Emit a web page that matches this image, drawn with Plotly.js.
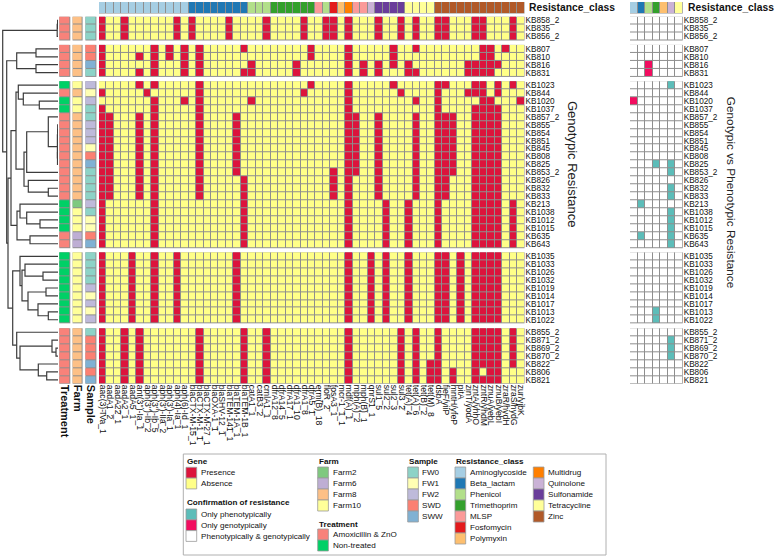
<!DOCTYPE html>
<html><head><meta charset="utf-8">
<script src="https://cdn.plot.ly/plotly-3.0.1.min.js"></script>
<style>html,body{margin:0;padding:0;background:#fff}</style>
</head><body><div id="chart" style="width:776px;height:558px"></div>
<script>
// ---------------- DATA ----------------
const genes = ["aac(3)-IVa_1","aadA1_2","aadA22_1","aadA2_1","aadA5_1","ant(3'')-Ia_1","aph(3'')-Ib_2","aph(3'')-Ib_5","aph(3')-IIa_2","aph(3')-Ia_1","aph(4)-Ia_1","aph(6)-Id_1",
"blaCTX-M-15_1","blaCTX-M-1_1","blaCTX-M-27_1","blaOXA-1_1","blaSHV-12_1","blaTEM-141_1","blaTEM-1A_1","blaTEM-1B_1",
"catA1_1","catB3_2","cmlA1_1","dfrA12_8","dfrA14_5","dfrA17_1","dfrA1_10","dfrA1_8","dfrA5_1","erm(B)_18","floR_2","fosA3_1","mcr-1_1_1","mdf(A)_1","mph(A)_2","mph(B)_1","qnrS1_1",
"sul1_5","sul2_2","sul2_3","sul3_2","tet(A)_4","tet(A)_6","tet(B)_2","tet(M)_8",
"dsbA","fieF/yiiP","mntH/yfeP","pitA","zinT/yodA","zntA/yhhO","zntR/yhdM","znuA/yebL","znuB/yebI","zraR/hydH","zraS/hydG","zur/yjbK"];
const geneClass = ["Aminoglycoside","Aminoglycoside","Aminoglycoside","Aminoglycoside","Aminoglycoside","Aminoglycoside","Aminoglycoside","Aminoglycoside","Aminoglycoside","Aminoglycoside","Aminoglycoside","Aminoglycoside",
"Beta_lactam","Beta_lactam","Beta_lactam","Beta_lactam","Beta_lactam","Beta_lactam","Beta_lactam","Beta_lactam",
"Phenicol","Phenicol","Phenicol","Trimethoprim","Trimethoprim","Trimethoprim","Trimethoprim","Trimethoprim","Trimethoprim","MLSP","Phenicol","Fosfomycin","Polymyxin","Multidrug","MLSP","MLSP","Quinolone",
"Sulfonamide","Sulfonamide","Sulfonamide","Sulfonamide","Tetracycline","Tetracycline","Tetracycline","Tetracycline",
"Zinc","Zinc","Zinc","Zinc","Zinc","Zinc","Zinc","Zinc","Zinc","Zinc","Zinc","Zinc"];
const classNames = ["Aminoglycoside","Beta_lactam","Phenicol","Trimethoprim","MLSP","Fosfomycin","Polymyxin","Multidrug","Quinolone","Sulfonamide","Tetracycline","Zinc"];
const classColors = ["#A6CEE3","#1F78B4","#B2DF8A","#33A02C","#FB9A99","#E31A1C","#FDBF6F","#FF7F00","#CAB2D6","#6A3D9A","#FFFF99","#B15928"];
const sideClasses = ["Aminoglycoside","Beta_lactam","Phenicol","Trimethoprim","Polymyxin","Quinolone","Tetracycline"];

const group1 = ["KB858_2","KB835","KB856_2"];
const group2 = ["KB807","KB810","KB816","KB831"];
const group3 = ["KB1023","KB844","KB1020","KB1037","KB857_2","KB855","KB854","KB851","KB845","KB808","KB825","KB853_2","KB826","KB832","KB833","KB213","KB1038","KB1012","KB1015","KB635","KB643"];
const group4 = ["KB1035","KB1033","KB1026","KB1032","KB1019","KB1014","KB1017","KB1013","KB1022"];
const group5 = ["KB855_2","KB871_2","KB869_2","KB870_2","KB822","KB806","KB821"];

// gene presence: column indices (into genes) present in each row
const presG1 = [
 [0,3,10,12,17,22,27,30,31,33,37,40,42,45,46,50,51,55],
 [0,3,10,12,17,22,27,30,31,33,37,40,42,45,46,50,51,55],
 [0,3,10,12,17,22,27,30,31,33,37,40,42,45,46,50,51,55]];
const presG2 = [
 [0,7,9,11,13,19,28,33,39,42,51,52,54],
 [0,5,7,9,11,13,28,33,39,51,52],
 [0,7,11,13,20,26,33,35,37,39,41,49,50,51,52,53],
 [0,5,7,11,13,19,20,26,33,35,37,41,42,49,50,51,52]];
const presG3 = [
 [5,7,13,28,33,39,45,46,50,51,53,55],
 [0,6,13,27,33,40,45,49,50,51,53],
 [7,11,13,20,33,42,45,51,52,56],
 [0,7,13,33,45,50,51,52,53],
 [0,1,5,7,13,18,33,34,37,42,45,46,47,50,51,52,53],
 [0,1,5,7,13,18,33,34,37,42,45,46,47,50,51,52,53],
 [0,1,5,7,13,18,33,34,37,42,45,46,47,50,51,52,53],
 [0,1,5,7,13,18,33,34,37,42,45,46,47,50,51,52,53],
 [0,1,5,7,13,18,33,34,37,42,45,46,47,50,51,52,53],
 [0,1,5,7,13,18,33,34,37,42,45,46,47,50,51,52,53],
 [0,1,5,7,13,18,33,34,37,42,45,46,47,50,51,52,53],
 [0,1,5,7,13,18,31,33,34,37,42,45,46,47,50,51,52,53],
 [0,1,5,7,13,19,31,33,37,42,45,46,50,51,52,53],
 [0,1,5,7,13,19,31,33,37,42,45,46,50,51,52,53],
 [0,1,5,7,13,19,31,33,37,42,45,46,50,51,52,53],
 [0,7,19,33,38,41,45,50,51,52,53,55],
 [0,7,19,33,38,41,45,50,51,52,53,55],
 [0,7,19,33,38,41,45,50,51,52,53,55],
 [0,7,19,33,38,41,45,50,51,52,53,55],
 [0,7,19,33,38,41,45,50,51,52,53,55],
 [0,7,19,33,38,41,45,50,51,52,53,55]];
const presG4 = [
 [0,4,7,10,18,33,36,38,41,45,46,48,50,51,52,53],
 [0,4,7,10,18,33,36,38,41,45,46,48,50,51,52,53],
 [0,4,7,10,18,33,36,38,41,45,46,48,50,51,52,53],
 [0,4,7,10,18,33,36,38,41,45,46,48,50,51,52,53],
 [0,4,7,10,18,33,36,38,41,45,46,48,50,51,52,53],
 [0,4,7,10,18,33,36,38,41,45,46,48,50,51,52,53],
 [0,4,7,10,18,33,36,38,41,45,46,48,50,51,52,53],
 [0,4,7,10,18,33,36,38,41,45,46,48,50,51,52,53],
 [0,4,7,10,18,33,36,38,41,45,46,48,50,51,52,53]];
const presG5 = [
 [0,3,5,13,19,22,33,40,42,45,50,51,52,53,55],
 [0,3,5,13,19,22,33,40,42,45,50,51,52,53,55],
 [0,3,5,13,19,22,33,40,42,45,50,51,52,53,55],
 [0,3,5,13,19,22,33,40,42,45,50,51,52,53,55],
 [0,3,5,13,19,22,33,40,42,44,45,50,51,52,53,55],
 [0,3,5,13,19,22,33,40,42,44,45,47,50,52,53],
 [0,3,5,13,19,22,33,40,42,44,45,47,50,51,52,53]];

// annotation columns (row order as above)
const treatment = ["A","A","A", "A","A","A","A",
 "N","A","N","N","A","A","A","A","A","A","A","A","A","A","A","N","N","N","N","A","A",
 "N","N","N","N","N","N","N","N","N", "A","A","A","A","A","A","A"];
const farm = ["Farm8","Farm8","Farm8", "Farm8","Farm8","Farm8","Farm8",
 "Farm10","Farm8","Farm10","Farm10","Farm8","Farm8","Farm8","Farm8","Farm8","Farm8","Farm8","Farm8","Farm8","Farm8","Farm8","Farm2","Farm10","Farm10","Farm10","Farm6","Farm6",
 "Farm10","Farm10","Farm10","Farm10","Farm10","Farm10","Farm10","Farm10","Farm10",
 "Farm8","Farm8","Farm8","Farm8","Farm8","Farm8","Farm8"];
const sample = ["FW0","FW0","FW0", "SWD","SWD","SWW","FW0",
 "FW2","FW1","FW2","FW0","FW0","FW2","FW2","FW2","FW1","SWD","SWW","FW0","FW0","FW0","FW0","FW2","FW0","FW1","FW1","SWD","SWW",
 "FW0","FW0","FW0","FW0","FW2","FW1","FW2","FW1","FW2",
 "FW0","SWD","SWD","SWD","SWW","SWD","SWW"];

// genotypic vs phenotypic: per row, 7 classes; 0 = both, P = only phenotypically, G = only genotypically
const confirmation = ["0000000","0000000","0000000",
 "0000000","0000000","00G0000","00G0000",
 "00000P0","0000000","G000000","0000000","0000000","0000000","0000000","0000000","0000000","0000000","000P0P0","00000P0","0000000","00000P0","00000P0","0P00000","00000P0","00000P0","00000P0","0P000P0","00000P0",
 "0000000","0000000","0000000","0000000","0000000","0000000","0000000","000P000","000P000",
 "0000000","00000P0","00000P0","00000P0","0000000","0000000","0000000"];

// dendrogram (leaf = row index, node = [left, right, height])
const dendroTree = [
 [[0,1,0.4],2,0.8],
 [
  [[3,4,22],[5,6,22],41.3],
  [
   [
    [
     [7,[8,[9,10,18.7],34.7],39.7],
     [
      [[11,[[[12,13,0.3],14,0.4],[[15,16,0.3],17,0.5],0.6],9.7],18,31.3],
      [19,[20,21,9.7],29.7],
      34],
     42],
    [[22,[23,[24,25,18],31.3],38],[26,27,28],41],
    47],
   [
    [28,[[29,[30,31,15],33],[[32,33,12],[34,[35,36,9.7],20],30],36],38],
    [37,[[38,[39,40,2],6],[41,[42,43,11.3],19.7],38],41.3],
    45.3],
   50],
  51.3],
 55.3];

// legend content
const geneLegend = ["Presence","Absence"];
const confLegend = ["Only phenotypically","Only genotypically","Phenotypically &amp; genotypically"];
const farmLegend = ["Farm2","Farm6","Farm8","Farm10"];
const farmColors = ["#7FC97F","#BEAED4","#FDC086","#FFFF99"];
const treatLegend = ["Amoxicillin &amp; ZnO","Non-treated"];
const treatCodes = ["A","N"];
const treatColors = ["#F8827A","#00D066"];
const sampleLegend = ["FW0","FW1","FW2","SWD","SWW"];
const sampleColors = ["#8DD3C7","#FFFFB3","#BEBADA","#FB8072","#80B1D3"];

// ---------------- STYLE ----------------
const W=776, H=558;
const fx=p=>p/W, fy=p=>1-p/H;
const FONT='"Liberation Sans", Arial, Helvetica, sans-serif';
const PRES="#DC143C", ABS="#FFFF88", GRID="#8E8E8E", TEAL="#5CBDB9", PINK="#F20C5F", WHITE="#FFFFFF";
const GAP=0.58;
const groups=[group1,group2,group3,group4,group5];
const pres=[presG1,presG2,presG3,presG4,presG5];
const nRows=groups.reduce((s,g)=>s+g.length,0);
const yMax=nRows+GAP*(groups.length-1);

const rowTop=[]; const rowNames=[];
let k=0;
groups.forEach((g,gi)=>g.forEach(n=>{rowTop.push(k+gi*GAP); rowNames.push(n); k++;}));
const rowCenter=rowTop.map(t=>t+0.5);

function disc(colors){ if(colors.length===1) return [[0,colors[0]],[1,colors[0]]]; return colors.map((c,i)=>[i/(colors.length-1),c]); }
const traces=[];
function hm(x,y,z,colors,xa,ya,gap){
  traces.push({type:'heatmap',x:x,y:y,z:z.map(r=>r.map(()=>0)),zmin:0,zmax:1,colorscale:[[0,GRID],[1,GRID]],showscale:false,hoverinfo:'skip',xaxis:xa,yaxis:ya});
  traces.push({type:'heatmap',x:x,y:y,z:z,zmin:0,zmax:colors.length-1,colorscale:disc(colors),showscale:false,hoverinfo:'skip',xgap:gap,ygap:gap,xaxis:xa,yaxis:ya});
}
const xMainEdges=[...Array(genes.length+1)].map((_,i)=>i-0.5);
const xSideEdges=[...Array(sideClasses.length+1)].map((_,i)=>i-0.5);
const annCols=[[59.3,70.0],[72.6,83.0],[85.4,96.2]];

let start=0;
groups.forEach((g,gi)=>{
  const n=g.length;
  const yE=[...Array(n+1)].map((_,i)=>rowTop[start]+i);
  const z=pres[gi].map(list=>genes.map((_,j)=>list.includes(j)?1:0));
  hm(xMainEdges,yE,z,[ABS,PRES],'x3','y2',1);
  const rows=[...Array(n)].map((_,i)=>start+i);
  hm(annCols[0],yE,rows.map(r=>[treatCodes.indexOf(treatment[r])]),treatColors,'x2','y',1);
  hm(annCols[1],yE,rows.map(r=>[farmLegend.indexOf(farm[r])]),farmColors,'x2','y',1);
  hm(annCols[2],yE,rows.map(r=>[sampleLegend.indexOf(sample[r])]),sampleColors,'x2','y',1);
  const zs=rows.map(r=>confirmation[r].split('').map(c=>c==='P'?1:(c==='G'?2:0)));
  hm(xSideEdges,yE,zs,[WHITE,TEAL,PINK],'x4','y3',1);
  start+=n;
});
hm(xMainEdges,[0,1],[geneClass.map(c=>classNames.indexOf(c))],classColors,'x3','y4',1);
hm(xSideEdges,[0,1],[sideClasses.map((c,i)=>i)],sideClasses.map(c=>classColors[classNames.indexOf(c)]),'x4','y4',1);

// dendrogram
const dx=[],dy=[];
function walk(node){
  if(typeof node==='number') return {y:rowCenter[node],h:0};
  const a=walk(node[0]), b=walk(node[1]), h=node[2];
  dx.push(a.h,h,h,b.h,null); dy.push(a.y,a.y,b.y,b.y,null);
  return {y:(a.y+b.y)/2,h:h};
}
walk(dendroTree);
traces.push({type:'scatter',mode:'lines',x:dx,y:dy,line:{color:'#3c3c3c',width:1.2},hoverinfo:'skip',showlegend:false,xaxis:'x',yaxis:'y'});

// ---------------- LAYOUT ----------------
const rowDomain=[fy(383.8),fy(16.5)];
const shapes=[], ann=[];
const LF=8.1;
function txt(x,y,t,opts){ann.push(Object.assign({xref:'paper',yref:'paper',x:fx(x),y:fy(y),text:t,showarrow:false,xanchor:'left',yanchor:'middle',font:{size:LF,color:'#111',family:FONT}},opts||{}));}
function sw(x0,y0,w,h,c){shapes.push({type:'rect',xref:'paper',yref:'paper',x0:fx(x0),x1:fx(x0+w),y0:fy(y0),y1:fy(y0+h),fillcolor:c,line:{color:'#9a9a9a',width:0.8}});}
function section(title,tx,ty,labels,colors,sx,sy,step,textx){
  if(title) txt(tx-1,ty,'<b>'+title+'</b>');
  labels.forEach((l,i)=>{sw(sx,sy+i*step,10.7,step,colors[i]); txt(textx,sy+i*step+step/2,l);});
}
shapes.push({type:'rect',xref:'paper',yref:'paper',x0:fx(183.3),x1:fx(606),y0:fy(454),y1:fy(555),line:{color:'#b0b0b0',width:1},fillcolor:'rgba(0,0,0,0)'});
section('Gene',186,461,geneLegend,[PRES,ABS],186,467.3,10.8,199);
section('Confirmation of resistance',186,502.3,confLegend,[TEAL,PINK,WHITE],186,509,10.8,199);
section('Farm',317.7,461,farmLegend,farmColors,317.7,467,11,331);
section('Treatment',317.7,524,treatLegend,treatColors,317.7,529,11,331);
section('Sample',407.7,461,sampleLegend,sampleColors,407.7,467,11,420.5);
section('Resistance_class',455,461,classNames.slice(0,7),classColors.slice(0,7),455,467,11,468);
section('',533.3,461,classNames.slice(7),classColors.slice(7),533.3,467,11,546.3);

txt(527,7.8,'<b>Resistance_class</b>',{font:{size:10.3,color:'#111',family:FONT}});
txt(685.5,7.8,'<b>Resistance_class</b>',{font:{size:10.3,color:'#111',family:FONT}});
txt(573,164,'Genotypic Resistance',{xanchor:'center',textangle:90,font:{size:13,color:'#222',family:FONT}});
txt(731.7,192.5,'Genotypic vs Phenotypic Resistance',{xanchor:'center',textangle:90,font:{size:11.8,color:'#222',family:FONT}});

const rowAxis={domain:rowDomain,range:[yMax,0],showgrid:false,zeroline:false,fixedrange:true};
const layout={
  width:W,height:H,margin:{l:0,r:0,t:0,b:0,pad:0,autoexpand:false},
  paper_bgcolor:'#fff',plot_bgcolor:'rgba(0,0,0,0)',showlegend:false,
  font:{family:FONT,color:'#111'},
  xaxis:{domain:[0,fx(58)],range:[58,0],visible:false,anchor:'y'},
  yaxis:Object.assign({},rowAxis,{visible:false,anchor:'x'}),
  xaxis2:{domain:[fx(58),fx(97.5)],range:[58,97.5],anchor:'y',showgrid:false,zeroline:false,showline:false,ticks:'',
    tickmode:'array',tickvals:annCols.map(c=>(c[0]+c[1])/2),ticktext:['<b>Treatment</b>','<b>Farm</b>','<b>Sample</b>'],tickangle:90,tickfont:{size:11,color:'#111'},automargin:false},
  xaxis3:{domain:[fx(99),fx(524.5)],range:[-0.5,genes.length-0.5],anchor:'y2',showgrid:false,zeroline:false,showline:false,ticks:'',
    tickmode:'array',tickvals:genes.map((_,i)=>i),ticktext:genes,tickangle:90,tickfont:{size:8.6,color:'#111'},automargin:false},
  yaxis2:Object.assign({},rowAxis,{anchor:'x3',side:'right',ticks:'',tickmode:'array',tickvals:rowCenter,ticktext:rowNames,tickfont:{size:8.2,color:'#111'},automargin:false}),
  xaxis4:{domain:[fx(630),fx(682.7)],range:[-0.5,sideClasses.length-0.5],anchor:'y3',visible:false},
  yaxis3:Object.assign({},rowAxis,{anchor:'x4',side:'right',ticks:'',tickmode:'array',tickvals:rowCenter,ticktext:rowNames,tickfont:{size:8.2,color:'#111'},automargin:false}),
  yaxis4:{domain:[fy(13.5),fy(2)],range:[1,0],visible:false,anchor:'x3'},
  shapes:shapes,annotations:ann
};
Plotly.newPlot('chart',traces,layout,{displayModeBar:false,staticPlot:true});
</script></body></html>
